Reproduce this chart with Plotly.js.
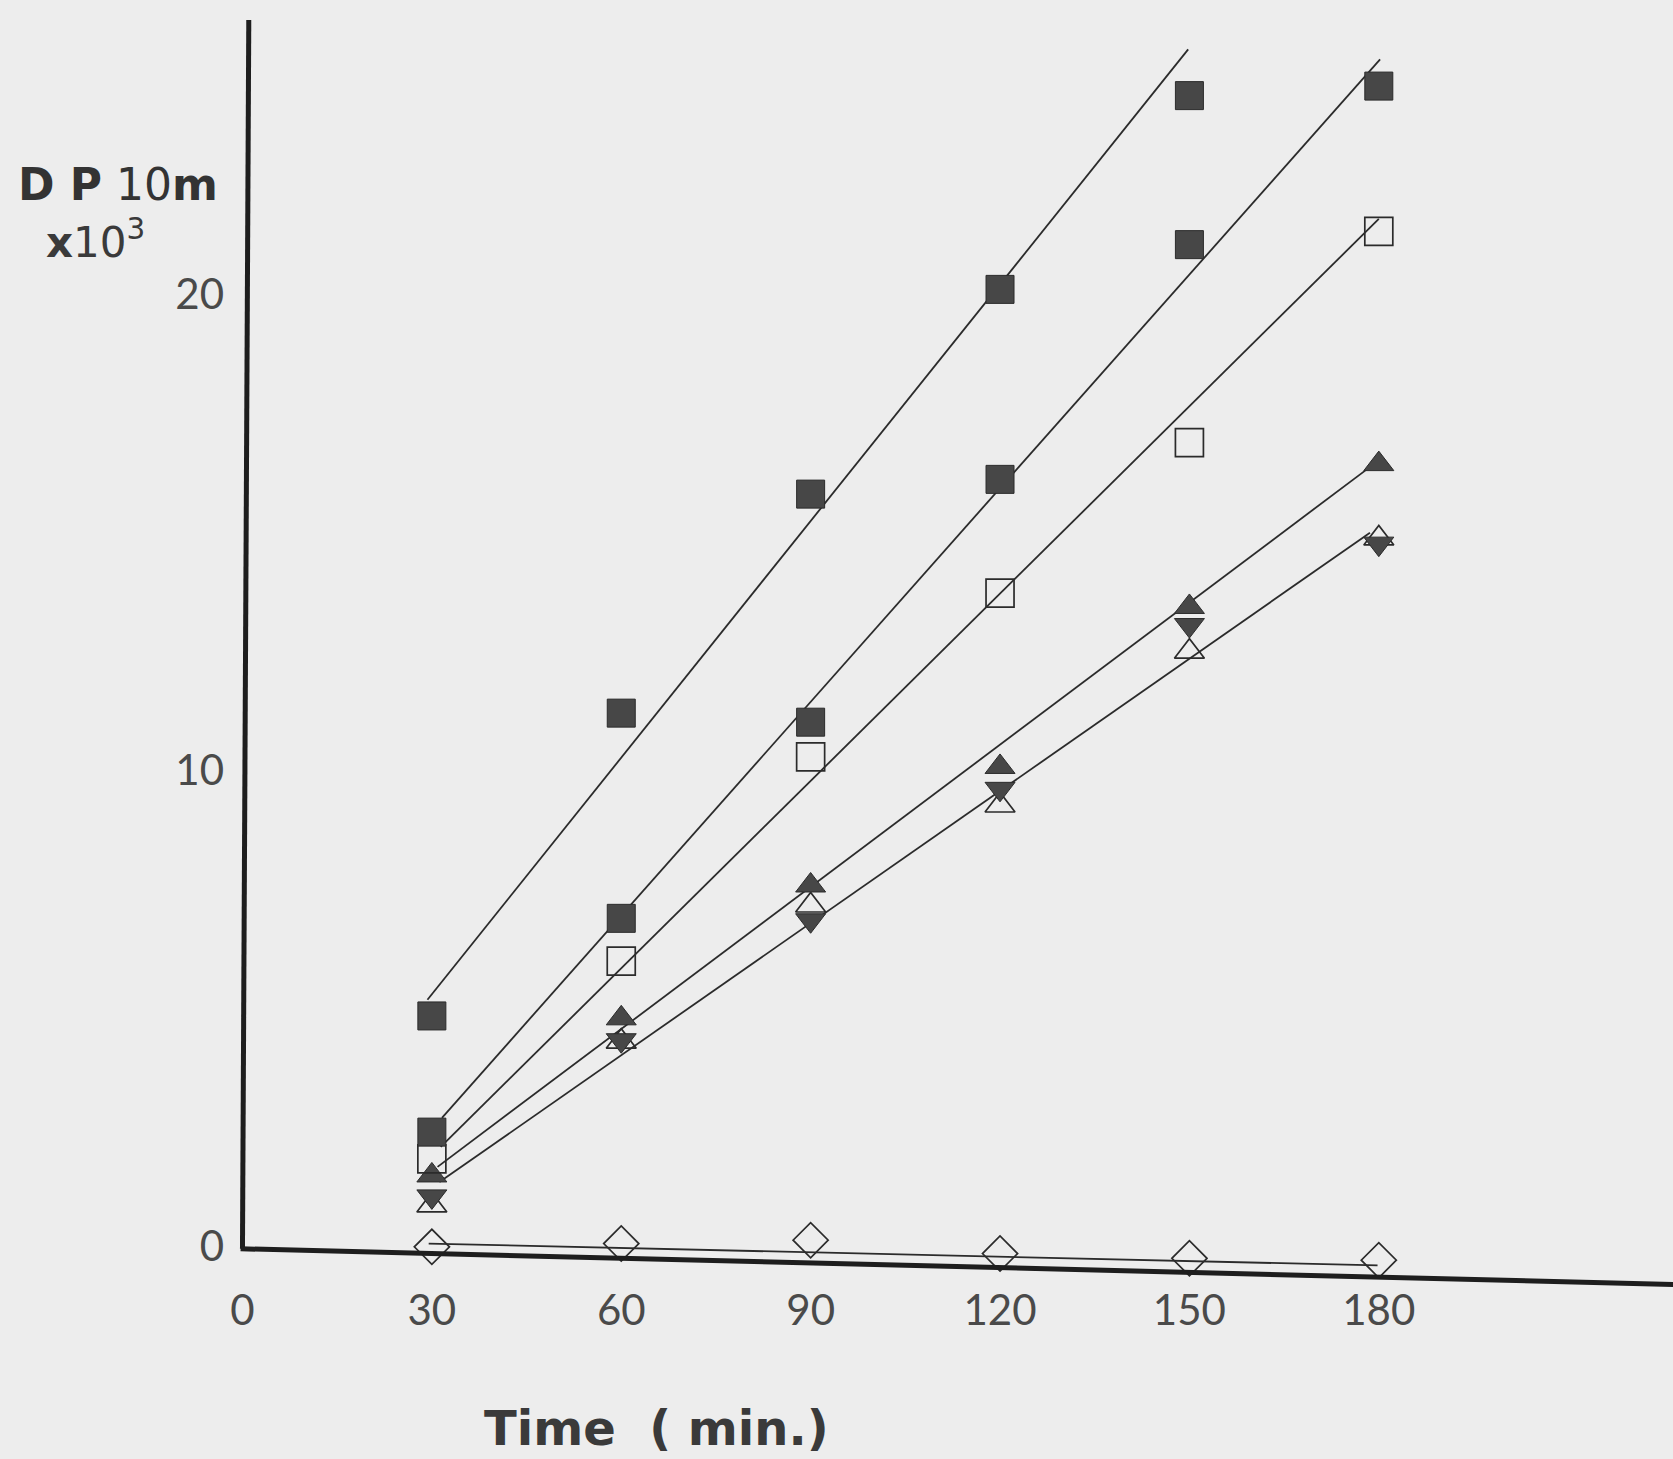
<!DOCTYPE html>
<html>
<head>
<meta charset="utf-8">
<script src="https://cdn.plot.ly/plotly-3.0.1.min.js"></script>
<style>
  html, body { margin: 0; padding: 0; background: #ededed; }
  #chart { width: 1673px; height: 1459px; }
</style>
</head>
<body>
<div id="chart"></div>
<script>
// ---- data (time in min, DP 10m x10^3) ----
var timesA = [30, 60, 90, 120, 150];
var times = [30, 60, 90, 120, 150, 180];

var filledSquareA = [4.84, 11.2, 15.8, 20.1, 24.17];
var filledSquareB = [2.40, 6.89, 11.01, 16.11, 21.04, 24.37];
var openSquare    = [1.84, 5.99, 10.28, 13.72, 16.88, 21.32];
var filledTriUp   = [1.49, 4.79, 7.58, 10.07, 13.43, 16.43];
var filledTriDown = [1.05, 4.33, 6.85, 9.61, 13.05, 14.76];
var openTriUp     = [0.86, 4.30, 7.16, 9.26, 12.49, 14.87];
var openDiamond   = [-0.01, 0.06, 0.13, -0.15, -0.25, -0.29];

// fitted straight lines (end points)
var fitA_x = [29.3, 149.8], fitA_y = [5.18, 25.14];
var fitB_x = [31.6, 180.2], fitB_y = [2.70, 24.93];
var fitC_x = [31.4, 180.0], fitC_y = [2.09, 21.58];
var fitD_x = [30.9, 178.1], fitD_y = [1.67, 16.32];
var fitE_x = [31.2, 178.6], fitE_y = [1.35, 14.99];
var fitF_x = [29.5, 179.8], fitF_y = [0.06, -0.40];

var xTickVals = [0, 30, 60, 90, 120, 150, 180];
var xTickText = ['0', '30', '60', '90', '120', '150', '180'];
var yTickVals = [0, 10, 20];
var yTickText = ['0', '10', '20'];

// ---- styles ----
var ink = '#2b2b2b';
var fillInk = '#474747';
var bg = '#ededed';

function fitLine(xs, ys) {
  return { x: xs, y: ys, mode: 'lines', type: 'scatter', showlegend: false,
           hoverinfo: 'skip', line: { color: ink, width: 1.8 } };
}
function filledPts(xs, ys, symbol, size) {
  return { x: xs, y: ys, mode: 'markers', type: 'scatter', showlegend: false,
           cliponaxis: false,
           marker: { symbol: symbol, size: size, color: fillInk,
                     line: { color: ink, width: 1 } } };
}
function openPts(xs, ys, symbol, size) {
  return { x: xs, y: ys, mode: 'markers', type: 'scatter', showlegend: false,
           cliponaxis: false,
           marker: { symbol: symbol, size: size, color: ink,
                     line: { color: ink, width: 1.7 } } };
}

var data = [
  fitLine(fitA_x, fitA_y),
  fitLine(fitB_x, fitB_y),
  fitLine(fitC_x, fitC_y),
  fitLine(fitD_x, fitD_y),
  fitLine(fitE_x, fitE_y),
  fitLine(fitF_x, fitF_y),
  openPts(times, openDiamond, 'diamond-open', 27),
  openPts(times, openTriUp, 'triangle-up-open', 26),
  filledPts(times, filledTriDown, 'triangle-down', 26),
  filledPts(times, filledTriUp, 'triangle-up', 26),
  openPts(times, openSquare, 'square-open', 28),
  filledPts(times, filledSquareB, 'square', 28),
  filledPts(timesA, filledSquareA, 'square', 28)
];

var tickFont = { family: 'Lato, "DejaVu Sans", sans-serif', size: 42, color: '#4a4a4a' };

var layout = {
  width: 1673, height: 1459,
  paper_bgcolor: bg, plot_bgcolor: bg,
  margin: { l: 233, r: 0, t: 18, b: 165 },
  showlegend: false,
  xaxis: {
    range: [-1.5, 226.6], showgrid: false, zeroline: false, showline: false,
    ticks: '', tickvals: xTickVals, ticktext: xTickText, tickfont: tickFont,
    ticklabelstandoff: -12
  },
  yaxis: {
    range: [-1, 25.8], showgrid: false, zeroline: false, showline: false,
    ticks: '', tickvals: yTickVals, ticktext: yTickText, tickfont: tickFont,
    ticklabelstandoff: 8
  },
  shapes: [
    { type: 'line', xref: 'x', yref: 'y', x0: 0, y0: -0.05, x1: 1.0, y1: 25.76,
      line: { color: '#1e1e1e', width: 5 }, layer: 'above' },
    { type: 'line', xref: 'x', yref: 'y', x0: -0.3, y0: -0.05, x1: 227, y1: -0.8,
      line: { color: '#1e1e1e', width: 5 }, layer: 'above' }
  ],
  annotations: [
    { xref: 'paper', yref: 'paper', x: (16 - 233)/1440, y: 1 - (184 - 18)/1276,
      xanchor: 'left', yanchor: 'middle', showarrow: false,
      text: '<b>D P</b> 10<b>m</b>',
      font: { family: '"DejaVu Sans", sans-serif', size: 44, color: '#333333' } },
    { xref: 'paper', yref: 'paper', x: (44 - 233)/1440, y: 1 - (240 - 18)/1276,
      xanchor: 'left', yanchor: 'middle', showarrow: false,
      text: '<b>x</b>10<sup>3</sup>',
      font: { family: '"DejaVu Sans", sans-serif', size: 42, color: '#3a3a3a' } },
    { xref: 'paper', yref: 'paper', x: (656 - 233)/1440, y: 1 - (1428 - 18)/1276,
      xanchor: 'center', yanchor: 'middle', showarrow: false,
      text: '<b>Time  ( min.)</b>',
      font: { family: '"DejaVu Sans", sans-serif', size: 48, color: '#3a3a3a' } }
  ]
};

Plotly.newPlot('chart', data, layout, { displayModeBar: false, staticPlot: true });
</script>
</body>
</html>
